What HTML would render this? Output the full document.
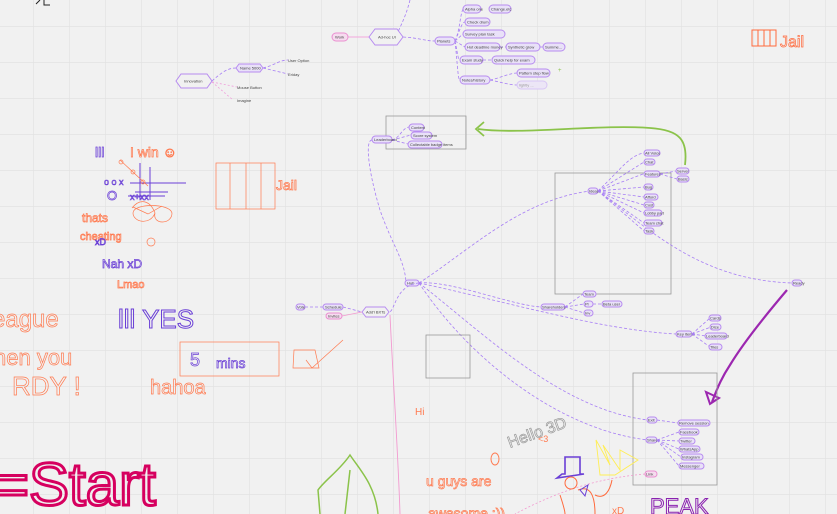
<!DOCTYPE html>
<html><head><meta charset="utf-8"><style>
html,body{margin:0;padding:0;background:#f1f1f1;}
svg{display:block;}
.p{fill:#e9e1f8;stroke:#b78cf0;stroke-width:1;}
.pk{fill:#f6dcef;stroke:#ea8fd0;stroke-width:1;}
.t{font-family:"Liberation Sans",sans-serif;font-size:4px;fill:#444;}
.c{fill:none;stroke:#a77ef5;stroke-width:0.8;stroke-dasharray:3 2;}
.h{font-family:"Liberation Sans",sans-serif;fill:none;stroke-width:0.7;}
</style></head><body>
<svg width="837" height="514" viewBox="0 0 837 514" xmlns="http://www.w3.org/2000/svg">
<defs>
<pattern id="g" width="36" height="36" patternUnits="userSpaceOnUse" x="-3" y="26">
<path d="M0 0H36M0 0V36" stroke="#e0e0e0" stroke-width="1.2" fill="none"/>
</pattern>
</defs>
<rect width="837" height="514" fill="#f1f1f1"/>
<rect width="837" height="514" fill="url(#g)"/>

<path d="M36 4 L40 0 M44 0 L44 5 L50 5" stroke="#222" fill="none"/>

<path class="c" d="M410 0 C405 20 398 30 396 37"/>
<path d="M348 37 H369" stroke="#f4a6dd" stroke-width="1"/>
<path class="c" d="M403 37 C420 38 425 41 435 41"/>
<path class="c" d="M455 41 C460 30 460 15 463 9 M455 41 C460 30 462 22 465 22 M455 41 L463 34 M455 41 L465 47 M455 41 C458 55 458 60 460 60 M455 41 C458 70 458 80 460 80 M500 47 H506 M540 47 H543 M483 60 H492 M490 80 C500 78 510 73 517 73 M490 80 C500 82 510 85 517 85"/>
<rect class="pk" x="332" y="33" width="16" height="8" rx="4"/><text class="t" x="335" y="38.5">Work</text>
<polygon points="369,37 375,29 397,29 403,37 397,45 375,45" fill="#f1f1f1" stroke="#b78cf0"/><text class="t" x="378" y="38.5">Ad-hoc UI</text>
<rect class="p" x="435" y="37" width="20" height="8" rx="4"/><text class="t" x="437" y="42.5">Planets</text>
<rect class="p" x="463" y="5" width="18" height="8" rx="4"/><text class="t" x="465" y="10.5">Alpha one</text>
<rect class="p" x="489" y="5" width="22" height="8" rx="4"/><text class="t" x="491" y="10.5">Change.etc</text>
<rect class="p" x="465" y="18" width="25" height="8" rx="4"/><text class="t" x="467" y="23.5">Check drum</text>
<rect class="p" x="463" y="30" width="42" height="8" rx="4"/><text class="t" x="465" y="35.5">Survey plan task</text>
<rect class="p" x="465" y="43" width="35" height="8" rx="4"/><text class="t" x="467" y="48.5">Hot deadline money</text>
<rect class="p" x="506" y="43" width="34" height="8" rx="4"/><text class="t" x="508" y="48.5">Synthetic grow</text>
<rect class="p" x="543" y="43" width="22" height="8" rx="4"/><text class="t" x="545" y="48.5">Summe...</text>
<rect class="p" x="460" y="56" width="23" height="8" rx="4"/><text class="t" x="462" y="61.5">Exam study</text>
<rect class="p" x="492" y="56" width="43" height="8" rx="4"/><text class="t" x="494" y="61.5">Quick help for exam</text>
<rect class="p" x="460" y="76" width="30" height="8" rx="4"/><text class="t" x="462" y="81.5">Notes/history</text>
<rect class="p" x="517" y="69" width="33" height="8" rx="4"/><text class="t" x="519" y="74.5">Pattern step flow</text>
<rect x="517" y="81" width="30" height="8" rx="4" fill="#ece6f6" stroke="#d8c6f5"/><text class="t" x="519" y="86.5" style="fill:#999">lightly ...</text>
<text x="558" y="72" font-size="6" fill="#8bc34a" font-family="Liberation Sans">+</text>

<g stroke="#ff6a3d" fill="none" stroke-width="1">
<rect x="752" y="30" width="24" height="16"/><path d="M758 30V46M764 30V46M770 30V46"/>
<text x="780" y="47" class="h" stroke="#ff6a3d" font-size="16">Jail</text>
</g>

<polygon points="176,81 181,74 207,74 212,81 207,88 181,88" fill="#f1f1f1" stroke="#b78cf0"/><text class="t" x="184" y="82.5">Innovation</text>
<path class="c" d="M212 81 C222 72 228 68 236 68 M263 68 C275 65 280 60 288 60 M263 68 L288 74"/>
<path d="M212 82 L237 87 M212 82 L233 100" stroke="#f0a0dc" stroke-width="0.8" stroke-dasharray="2 2"/>
<polygon points="236,68 239,64 260,64 263,68 260,72 239,72" class="p"/><text class="t" x="240" y="69.5">Name 5000</text>
<text class="t" x="288" y="62">User Option</text><text class="t" x="288" y="76">Eriday</text>
<text class="t" x="237" y="89">Mouse Button</text><text class="t" x="237" y="102">Imagine</text>

<rect x="386" y="116" width="80" height="33" fill="none" stroke="#999" stroke-width="0.8"/>
<path class="c" d="M392 140 C400 138 402 128 409 127 M392 140 L411 135 M392 140 L408 144"/>
<rect class="p" x="372" y="136" width="20" height="7" rx="3.5"/><text class="t" x="374" y="141">Leaderboard</text>
<rect class="p" x="409" y="124" width="15" height="7" rx="3.5"/><text class="t" x="411" y="129">Content</text>
<rect class="p" x="411" y="132" width="21" height="7" rx="3.5"/><text class="t" x="413" y="137">Score system</text>
<rect class="p" x="408" y="141" width="34" height="7" rx="3.5"/><text class="t" x="410" y="146">Collectable badge items</text>
<path class="c" d="M372 140 C365 140 368 170 380 210 C392 245 405 260 406 283"/>

<path d="M685 165 C688 140 680 130 650 128 C600 124 520 135 478 129" fill="none" stroke="#8bc34a" stroke-width="1.8"/>
<path d="M484 122 L476 129 L484 136" fill="none" stroke="#8bc34a" stroke-width="1.8"/>

<rect class="p" x="405" y="280" width="14" height="6" rx="3"/><text class="t" x="407" y="284.5">Hub</text>
<path class="c" d="M419 283 C470 250 520 200 590 191"/>
<path class="c" d="M419 283 C450 280 510 305 541 307"/>
<path class="c" d="M419 283 C500 300 600 330 676 334"/>
<path class="c" d="M419 283 C480 330 560 410 648 420"/>
<path class="c" d="M419 283 C470 360 560 430 648 440"/>
<path class="c" d="M419 283 C395 285 395 312 389 312"/>
<path d="M390 315 C393 380 398 450 400 514" stroke="#f29ad0" stroke-width="0.9" fill="none"/>

<polygon points="362,312 366,307 385,307 389,312 385,317 366,317" fill="#f1f1f1" stroke="#b78cf0"/><text class="t" x="366" y="313.5">Add'l BXTs</text>
<path class="c" d="M343 307 L362 312 M305 307 H323"/>
<path d="M342 316 L362 312" stroke="#f29ad0" stroke-width="0.8"/>
<rect class="p" x="323" y="304" width="20" height="6" rx="3"/><text class="t" x="325" y="308.5">Schedule</text>
<rect class="pk" x="326" y="313" width="16" height="6" rx="3"/><text class="t" x="328" y="317.5">Invites</text>
<rect class="p" x="296" y="304" width="9" height="6" rx="3"/><text class="t" x="297" y="308.5">Vote</text>

<rect x="555" y="173" width="116" height="121" fill="none" stroke="#999" stroke-width="0.8"/>
<rect class="p" x="588" y="188" width="10" height="6" rx="3"/><text class="t" x="589" y="192.5">Ideas</text>
<path class="c" d="M598 191 C620 170 630 155 644 153 M598 191 L644 162 M598 191 L643 174 M598 191 L644 187 M598 191 L644 197 M598 191 L644 205 M598 191 L644 213 M598 191 L644 223 M598 191 L644 231 M660 174 L676 171 M660 174 L677 179"/>
<path class="c" d="M598 191 C650 230 700 280 792 283"/>
<g>
<rect class="p" x="644" y="150" width="16" height="6" rx="3"/><text class="t" x="645" y="154.5">All Voice</text>
<rect class="p" x="644" y="159" width="11" height="6" rx="3"/><text class="t" x="645" y="163.5">Chat</text>
<rect class="p" x="644" y="171" width="16" height="6" rx="3"/><text class="t" x="645" y="175.5">Features</text>
<rect class="p" x="644" y="184" width="9" height="6" rx="3"/><text class="t" x="645" y="188.5">Bug</text>
<rect class="p" x="644" y="194" width="14" height="6" rx="3"/><text class="t" x="645" y="198.5">Afford</text>
<rect class="p" x="644" y="202" width="10" height="6" rx="3"/><text class="t" x="645" y="206.5">Cost</text>
<rect class="p" x="644" y="210" width="18" height="6" rx="3"/><text class="t" x="645" y="214.5">Lobby part</text>
<rect class="p" x="644" y="220" width="18" height="6" rx="3"/><text class="t" x="645" y="224.5">Team chat</text>
<rect class="p" x="644" y="228" width="10" height="6" rx="3"/><text class="t" x="645" y="232.5">Task</text>
<rect class="p" x="676" y="168" width="13" height="6" rx="3"/><text class="t" x="677" y="172.5">Server</text>
<rect class="p" x="677" y="176" width="12" height="6" rx="3"/><text class="t" x="678" y="180.5">Basic</text>
<rect class="p" x="792" y="280" width="10" height="6" rx="3"/><text class="t" x="793" y="284.5">Ready</text>
</g>
<path d="M787 290 C770 310 745 340 730 365 C720 380 716 392 712 402" fill="none" stroke="#9c27b0" stroke-width="2.2"/>
<path d="M706 392 L710 404 L719 398 Z" fill="none" stroke="#9c27b0" stroke-width="2"/>

<rect class="p" x="541" y="304" width="24" height="6" rx="3"/><text class="t" x="542" y="308.5">Shareholders</text>
<path class="c" d="M565 307 L583 294 M565 307 L584 304 M565 307 L584 313 M593 304 H602"/>
<rect class="p" x="583" y="291" width="13" height="6" rx="3"/><text class="t" x="584" y="295.5">Team</text>
<rect class="p" x="584" y="301" width="9" height="6" rx="3"/><text class="t" x="585" y="305.5">Pl</text>
<rect class="p" x="602" y="301" width="20" height="6" rx="3"/><text class="t" x="603" y="305.5">Beta user</text>
<rect class="p" x="584" y="310" width="9" height="6" rx="3"/><text class="t" x="585" y="314.5">Inv</text>
<rect class="p" x="676" y="331" width="16" height="6" rx="3"/><text class="t" x="677" y="335.5">Key items</text>
<path class="c" d="M692 334 L710 318 M692 334 L711 327 M692 334 L706 336 M692 334 L710 347"/>
<rect class="p" x="709" y="315" width="12" height="6" rx="3"/><text class="t" x="710" y="319.5">Cards</text>
<rect class="p" x="710" y="324" width="11" height="6" rx="3"/><text class="t" x="711" y="328.5">Dice</text>
<rect class="p" x="705" y="333" width="22" height="6" rx="3"/><text class="t" x="706" y="337.5">Leaderboard</text>
<rect class="p" x="709" y="344" width="13" height="6" rx="3"/><text class="t" x="710" y="348.5">Tiles</text>

<rect x="426" y="335" width="44" height="43" fill="none" stroke="#999" stroke-width="0.8"/>

<rect x="633" y="373" width="84" height="112" fill="none" stroke="#999" stroke-width="0.8"/>
<rect class="p" x="647" y="417" width="10" height="6" rx="3"/><text class="t" x="648" y="421.5">Exit</text>
<rect class="p" x="646" y="437" width="11" height="6" rx="3"/><text class="t" x="647" y="441.5">Share</text>
<path class="c" d="M657 420 L678 423 M657 440 L679 432 M657 440 L679 441 M657 440 L679 449 M657 440 L681 457 M657 440 L679 466"/>
<rect class="p" x="678" y="420" width="32" height="6" rx="3"/><text class="t" x="679" y="424.5">Remove session</text>
<rect class="p" x="679" y="429" width="20" height="6" rx="3"/><text class="t" x="680" y="433.5">Facebook</text>
<rect class="p" x="679" y="438" width="16" height="6" rx="3"/><text class="t" x="680" y="442.5">Twitter</text>
<rect class="p" x="679" y="446" width="21" height="6" rx="3"/><text class="t" x="680" y="450.5">WhatsApp</text>
<rect class="p" x="681" y="454" width="22" height="6" rx="3"/><text class="t" x="682" y="458.5">Instagram</text>
<rect class="p" x="679" y="463" width="25" height="6" rx="3"/><text class="t" x="680" y="467.5">Messenger</text>
<rect class="pk" x="645" y="471" width="12" height="6" rx="3"/><text class="t" x="646" y="475.5">Link</text>
<path d="M645 474 C600 478 560 490 515 514" stroke="#f29ad0" stroke-width="0.8" stroke-dasharray="2 2" fill="none"/>

<g class="h">
<text x="95" y="157" stroke="#6a3fd6" font-size="14">lll</text>
<text x="130" y="157" stroke="#ff7a50" font-size="14">I win ☺</text>
<g stroke="#6a3fd6" fill="none" stroke-width="1">
<path d="M140 163 V200 M150 167 V200 M130 183 H186 M135 192 H168 M128 196 H165"/>
<text x="104" y="185" stroke="#6a3fd6" font-size="9" stroke-width="0.6">o o x</text>
<text x="107" y="200" stroke="#6a3fd6" font-size="13" stroke-width="0.7">O</text>
<text x="130" y="200" stroke="#6a3fd6" font-size="9" stroke-width="0.6">x+xx</text>
</g>
<path d="M120 160 L148 186" stroke="#ff7a50"/><circle cx="121" cy="162" r="2" stroke="#ff7a50"/><circle cx="133" cy="172" r="2" stroke="#ff7a50"/><circle cx="143" cy="182" r="2" stroke="#ff7a50"/>
<text x="82" y="222" stroke="#ff7a50" font-size="12">thats</text>
<text x="80" y="240" stroke="#ff7a50" font-size="11">cheating</text>
<text x="95" y="245" stroke="#6a3fd6" font-size="9">xD</text>
<path d="M132 208 C140 198 150 200 155 213 C150 226 133 222 133 213 C133 203 170 203 172 213 C172 225 152 225 155 213 M133 207 L148 214 L162 206" stroke="#ff7a50"/>
<circle cx="151" cy="242" r="4" stroke="#ff7a50"/>
<text x="102" y="268" stroke="#6a3fd6" font-size="12">Nah  xD</text>
<text x="117" y="288" stroke="#ff7a50" font-size="11">Lmao</text>
<text x="118" y="328" stroke="#6a3fd6" font-size="26" stroke-width="1">lll  YES</text>
<rect x="180" y="342" width="99" height="34" stroke="#ff7a50"/>
<text x="190" y="366" stroke="#6a3fd6" font-size="18">5</text>
<text x="216" y="368" stroke="#6a3fd6" font-size="14">mins</text>
<path d="M294 350 H315 L319 368 H293 Z M306 360 L312 368 L343 340" stroke="#ff7a50"/>
<text x="150" y="394" stroke="#ff7a50" font-size="20">hahoa</text>
<text x="-8" y="327" stroke="#ff7a50" font-size="24">eague</text>
<text x="-6" y="365" stroke="#ff7a50" font-size="22">hen  you</text>
<text x="12" y="395" stroke="#ff7a50" font-size="26">RDY !</text>
<rect x="216" y="163" width="59" height="46" stroke="#ff7a50"/>
<path d="M230 163V209M246 163V209M261 163V209" stroke="#ff7a50"/>
<text x="276" y="190" stroke="#ff7a50" font-size="14">Jail</text>
</g>
<text x="-6" y="505" font-family="Liberation Sans" font-size="60" fill="none" stroke="#d6005f" stroke-width="3">=Start</text>

<text x="415" y="415" font-family="Liberation Sans" font-size="10" fill="#ff7a50">Hi</text>
<text x="505" y="440" font-family="Liberation Sans" font-size="16" fill="none" stroke="#999" stroke-width="0.7" transform="rotate(-20 530 430)">Hello 3D</text>
<text x="538" y="442" font-family="Liberation Sans" font-size="9" fill="#ff7a50">&lt;3</text>
<ellipse cx="495" cy="459" rx="4" ry="6" fill="none" stroke="#ff7a50"/>
<text x="426" y="486" font-family="Liberation Sans" font-size="14" fill="none" stroke="#ff7a50" stroke-width="0.7">u guys are</text>
<text x="428" y="518" font-family="Liberation Sans" font-size="14" fill="none" stroke="#ff7a50" stroke-width="0.7">awesome :))</text>
<path d="M320 514 L318 490 C325 480 340 470 350 455 C360 470 375 485 378 514 M350 470 L345 514" fill="none" stroke="#8bc34a" stroke-width="1.5"/>
<path d="M565 457 H580 V474 H584 L557 478 L562 474 H565 Z" fill="none" stroke="#6a3fd6" stroke-width="1.6"/>
<circle cx="571" cy="483" r="6" fill="none" stroke="#ff6a3d"/>
<path d="M560 495 C565 510 565 514 565 514 M578 490 C590 485 595 495 595 514 M595 495 C605 500 610 490 612 480" fill="none" stroke="#ff6a3d" stroke-width="1"/>
<path d="M580 490 L588 485 L585 496 Z" fill="none" stroke="#6a3fd6"/>
<path d="M596 440 L610 465 L603 445 L620 470 L620 450 L638 460 L615 475 L600 475 Z" fill="none" stroke="#ffee55" stroke-width="0.9"/>
<text x="650" y="514" font-family="Liberation Sans" font-size="22" fill="none" stroke="#8a22b0" stroke-width="1">PEAK</text>
<text x="612" y="514" font-family="Liberation Sans" font-size="10" fill="#ff7a50">xD</text>
</svg>
</body></html>
